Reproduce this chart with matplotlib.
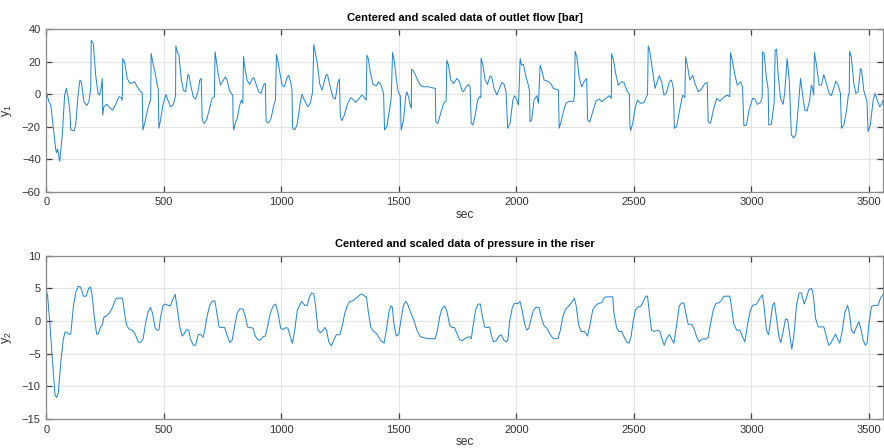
import matplotlib
matplotlib.use("Agg")
import matplotlib.pyplot as plt

plt.rcParams['font.family'] = ['Liberation Sans', 'DejaVu Sans']

# outlet flow
t1 = [0, 1.5, 11, 19, 40, 44, 48, 57, 68, 78, 85, 92, 100, 104, 118, 125, 135, 143, 149, 160, 172,
      181, 189, 191, 200, 210, 220, 227, 234, 238, 240, 245, 257, 273, 283, 294, 309, 319, 323, 325,
      333, 344, 356, 370, 375, 387, 401, 408, 411, 420, 429, 440, 444, 446, 454, 462, 472, 476, 479,
      486, 496, 509, 517, 529, 540, 550, 551, 557, 564, 574, 583, 593,
      602, 606, 613, 625, 635, 645, 653, 659, 663, 667, 673, 684, 698, 705, 715, 718, 722, 731, 741,
      751, 762, 769, 779, 786, 793, 795, 798, 805, 812, 823, 830, 836, 839, 844, 854, 866, 875, 883,
      894, 904, 914, 925, 932, 935, 946, 956, 968, 975, 979, 985, 993, 1003, 1013, 1024, 1031, 1041,
      1045, 1048, 1057, 1067, 1081, 1088, 1095, 1112, 1123, 1133, 1138, 1145, 1152, 1163, 1173, 1183,
      1191, 1197, 1206, 1220, 1230, 1240, 1247, 1251, 1258, 1268, 1282, 1296, 1308, 1317, 1329, 1343,
      1350, 1361, 1364, 1370, 1378, 1390, 1404, 1414, 1424, 1435, 1439, 1449, 1461, 1468, 1473, 1480,
      1489, 1497, 1506, 1510, 1520, 1529, 1534, 1541, 1548, 1553, 1554, 1563, 1577, 1591, 1605, 1626,
      1641, 1655, 1657, 1666, 1676, 1690, 1701, 1704, 1711, 1721, 1733, 1747, 1758, 1768,
      1775, 1786, 1796, 1803, 1808, 1815, 1825, 1835, 1843, 1849, 1850, 1857, 1867, 1877, 1888, 1895,
      1905, 1917, 1928, 1938, 1948, 1956, 1963, 1973, 1985, 1992, 1999, 2009, 2016, 2022, 2030, 2041,
      2051, 2056, 2058, 2065, 2075, 2087, 2094, 2101, 2108, 2118, 2132, 2146, 2158, 2179, 2182, 2190,
      2200, 2211, 2226, 2243, 2247, 2250, 2257, 2268, 2278, 2288, 2299, 2303, 2313, 2325, 2339, 2353,
      2363, 2377,
      2384, 2396, 2404, 2405, 2413, 2424, 2434, 2448, 2458, 2469, 2481, 2483, 2486, 2495, 2505, 2515,
      2529, 2543, 2554, 2558, 2561, 2568, 2580, 2590, 2600, 2608, 2618, 2628, 2639, 2651, 2660, 2668,
      2672, 2682, 2696, 2707, 2713, 2717, 2720, 2727, 2738, 2750, 2760, 2774, 2788, 2802, 2812, 2816,
      2826, 2838, 2852, 2866, 2880, 2897, 2908, 2911, 2920, 2930, 2940, 2954, 2962,
      2968, 2979, 2990, 3005, 3015, 3025, 3039, 3046, 3047, 3054, 3064, 3071, 3074, 3085, 3097, 3101,
      3107, 3114, 3124, 3135, 3142, 3152, 3161, 3170, 3180, 3189, 3199, 3209, 3217, 3227, 3237, 3248,
      3255, 3260, 3265, 3268, 3277, 3288, 3298, 3308, 3319, 3331, 3340, 3350, 3359, 3369, 3379, 3383,
      3393, 3404, 3413, 3416, 3418, 3425, 3435, 3444, 3454, 3464, 3469, 3478, 3486, 3492, 3496, 3506,
      3518, 3526, 3535, 3546, 3554, 3560]
y1 = [0, 0.4, -4.7, -6.7, -34, -36, -33.7, -41.4, -25, -0.6, 3.5, -1.6, -9.8, -22, -22.6, -19, -0.6,
      8.6, 7.5, -4.7, -7.1, -4.7, 3.5, 33, 31, 11.6, 0.4, -0.6, 4.5, 9.6, -12.9, -7.8, -6.3, -8.8,
      -9.8, -6.7, -1.6, -2.2, -3.7, 21.8, 19.8, 9.6, 6.5, 7.1, 7.6, 4.5, 1.4, 1, -22, -17, -10.8,
      -4.7, -4.3, 25, 18.8, 13.7, 5.5, 3.5, -21, -16, -6.7, -0.2, -3.7, -7.8, -6.7, -0.6, 29.6, 26,
      24, 9.6, 2.4, 1.4,
      11.6, 12, 6.5, -1.6, -3, 1.4, 8.6, 9.6, -15, -17, -18, -15, -6.7, -2.7, -1.6, 26, 21.8, 12.7,
      5.5, 8, 10.6, 8.6, 2.4, 0.4, -0.6, -18, -22, -17.3, -15, -6.7, -3.7, -5.7, 23, 16.7, 8.6, 5.9,
      9.2, 10, 5.5, 1.4, 0.4, 5.9, 6.5, -17, -17.6, -15, -6.7, -3.7, 24.3, 20.8, 13.7, 5.5, 4.5, 10,
      11.6, 6.5, 2.4, -21, -22, -19, -4.7, -0.2, -2.7, -7.8, -5.7, 1.4, 30.4, 24.9, 19.8, 6.5, 2.4,
      7.6,
      12, 11.6, 5.5, -2.2, -3, 6.5, 9.2, -13.9, -16.3, -12.9, -5.7, -2.2, -3.7, -5.1, -3, -0.6, -1.6,
      -3.7, 23.9, 21.8, 13.7, 5.9, 5.1, 7.6, 5.5, 0.4, -22, -20, -8.8, -1.6, 25.5, 20.8, 9.6, 1.4,
      -1, -22, -15.9, -1.6, 1.4, -1.6, -6.7, -8.8, 15.3, 14.1, 9.6, 5.5, 4.5, 4.5, 3.9, 3.5, -17, -18,
      -12.9, -5.7, -4.3, 20.8, 17.8, 8.6, 6.5, 9.6, 7.6, 2.4,
      1.4, 4.5, 5.9, 4.5, -18, -19, -12.9, -3.7, -1.6, -2.2, 22.2, 18.2, 8.6, 5.9, 11.2, 10.6, 3.5,
      -0.6, 3.5, 7.1, 5.9, 1.4, -21, -18, -3.7, -1, -2.7, -6.7, 21.8, 17.8, 18.2, 10.6, 5.5, 1.4,
      -17, -15.9, -3.7, -1, -5.7, 17.8, 14.7, 8.6, 8, 6.5, 3.5, 2.4, -21, -17, -10.8, -5.7, -4.3,
      -4.7, -0.6, 26.3, 22.9, 9.6, 4.5, 7.6, 9.6, -15.9, -17, -10.8, -4.3, -3, -4.7, -3,
      -2.2, -1, -2.7, 24.9, 20.8, 11.6, 5.5, 7.6, 7.1, 2.4, -0.2, -19, -22.6, -18, -8.8, -3.7, -5.7,
      -5.1, -1.6, -0.2, 29.6, 26, 13.7, 3.5, 8, 11.2, 7.6, -0.6, 1, 7.6, 8.6, 3.5, -21, -20, -8.8,
      -0.6, -1.6, -2.2, 22.9, 18.2, 8.6, 11.6, 6.5, 1.4, 3.1, 6.5, 7.1, -17, -18, -9.8, -2.7, -4.3,
      -2.2, -0.6, -1.6, 25.5, 19.8, 11.6, 5.5, 7.6, 4.5,
      -19.4, -19, -9.8, -2.7, -3, -6.3, -5.1, -1.6, 25.9, 24.9, 9.6, 3.5, -19, -18.6, -4.7, 26.9,
      27.6, 11.6, -2.7, -6.3, 1.4, 21.8, 8.6, -25, -27, -25, -8.8, 9.6, 0.4, -9.8, -10.4, -3.7, 5.5,
      3.5, -0.6, 25.5, 17.8, 5.5, 5.5, 12, 6.5, 0.4, -1, 3.5, 8, 5.5, 0.4, -21, -19, -10.8, -0.2,
      0.4, 26.3, 22.9, 7.6, 0.4, 1.4, 15.7, 14.7, 2.4, -1.6, -4.7, -23, -19, -3.7, 0.4, -3.7, -7.8,
      -6.3, -3.7]

# pressure in the riser
t2 = [0, 1.5, 6, 16, 27, 37, 44, 51, 61, 72, 79, 89, 94, 104, 115, 126, 136, 146, 158, 169, 180,
      188, 194, 204, 214, 221, 231, 238, 245, 256, 268, 282, 292, 299, 310, 324, 331, 341, 351, 365,
      377, 391, 401, 412, 422, 433, 443, 452, 462, 469, 479, 486, 497, 507, 518, 528, 536, 548, 556,
      568, 578, 586, 596, 606, 613, 625, 635, 646, 656, 667, 674, 684, 695, 705, 717, 726, 735, 745,
      759, 771, 781, 791, 802, 812, 823, 837, 847, 856, 868, 880, 889, 901, 911, 922, 932, 943, 953,
      965, 976, 986, 997, 1007, 1019, 1028, 1038, 1047, 1057, 1068, 1078,
      1086, 1100, 1110, 1118, 1128, 1138, 1146, 1156, 1166, 1178, 1185, 1192, 1202, 1213, 1223, 1234,
      1249, 1260, 1270, 1280, 1291, 1305, 1317, 1326, 1336, 1345, 1355, 1362, 1369, 1380, 1393, 1407,
      1421, 1437, 1447, 1457, 1465, 1472, 1479, 1489, 1499, 1508, 1518, 1528, 1536, 1549, 1563, 1577,
      1591, 1603, 1620, 1638, 1655, 1664, 1674, 1684, 1695, 1705, 1716, 1726, 1737, 1747, 1759, 1770,
      1780, 1790, 1801, 1808, 1815, 1827, 1837, 1847, 1855, 1865, 1876, 1886, 1893, 1903, 1914, 1926,
      1936, 1946, 1957, 1964, 1971, 1983, 1992, 2007, 2016, 2024, 2035, 2045, 2053, 2063, 2073, 2084,
      2096, 2106, 2116, 2130, 2144, 2158, 2177, 2187, 2198, 2209, 2223, 2238, 2247, 2255, 2265, 2276,
      2290,
      2303, 2313, 2325, 2335, 2349, 2363, 2373, 2381, 2398, 2410, 2415, 2427, 2437, 2448, 2458, 2469,
      2479, 2488, 2498, 2507, 2519, 2529, 2540, 2551, 2558, 2566, 2575, 2587, 2600, 2611, 2621, 2629,
      2639, 2651, 2660, 2670, 2682, 2693, 2703, 2713, 2721, 2731, 2746, 2755, 2767, 2778, 2788, 2798,
      2806, 2816, 2826, 2838, 2849, 2863, 2873, 2883, 2894, 2908, 2915, 2925, 2937, 2951, 2962, 2972,
      2982, 2994, 3005, 3022, 3036, 3047, 3054, 3064, 3073, 3081, 3090, 3098, 3107, 3117, 3125, 3135,
      3145, 3154, 3164, 3172, 3180, 3192, 3203, 3213, 3224, 3234, 3244, 3256, 3263, 3273, 3284, 3298,
      3308, 3319, 3329, 3338, 3348, 3358, 3366, 3376, 3387, 3397, 3409, 3416, 3426, 3436, 3447, 3457,
      3464, 3475, 3485, 3492, 3501, 3511, 3521, 3539, 3549, 3560]
y2 = [4.5, 4.5, 3.7, -0.9, -6.5, -11.3, -11.7, -11, -6.5, -2.9, -1.7, -1.7, -2, -2, 2.2, 4.5, 5.3,
      5.2, 3.8, 3.8, 5, 5.2, 4.2, 0.7, -2, -2, -0.9, -0.6, 0.6, 0.8, 1.2, 2.1, 3.1, 3.5, 3.5, 3.5,
      1.7, -0.6, -1.2, -1.4, -1.9, -3.2, -3.3, -2.7, -0.4, 1.4, 2.1, 1.2, -0.9, -1.4, -1.4, 0.6, 2.4,
      2.6, 2.4, 2.3, 3.1, 4.1, 2.2, -0.9, -2.3, -2, -1.3, -1.4, -2.7, -3.7, -3.7, -2.1, -2, -2.5,
      -1.4, 0.7, 2.4, 3, 3.1, 1.2, -0.9, -1, -1, -2.4, -3.3, -2.9, -0.6, 1.2, 1.9, 1.8, 0.7, -0.9, -1,
      -1.1, -2.3, -2.9, -2.9, -2.4, -2.3, -0.6, 1.2, 2.3, 2.6, 1.2, -1.1, -1.3, -1, -1.1, -2.4, -3.4,
      -1.4, 1.7, 2.4,
      3, 2.4, 2.4, 3.5, 4.3, 4.2, 2.2, -1.4, -1.8, -1.4, -1, -1.4, -3.2, -3.8, -2.9, -2.1, -2.1, -0.6,
      1.2, 2.3, 3, 3.1, 3.5, 3.7, 4.1, 4.1, 3.8, 3.7, 1.7, -0.9, -1.6, -2, -2.9, -3.4, -1.4, 1.2, 2.3,
      2.1, -0.4, -2.3, -2.1, -0.1, 2.2, 3, 2.7, 1.4, 0.2, -1.4, -2.4, -2.5, -2.7, -2.7, -2.7, -1.4,
      0.7, 1.9, 2.3, 1.4, -0.6, -1, -1, -1.9, -2.9, -3, -2.7, -2.5, -2.4, -2.7, -0.9, 1.7, 2.6, 2.6,
      0.7, -0.9, -1, -0.9, -2.1, -3.2, -3, -2.3, -2.1, -2.9, -3.2, -2.9, -0.1, 2.1, 2.7, 2.7, 3, 1.7,
      -0.4, -1.4, -1.1, 0.4, 1.7, 2.1, 2.1, 0.6, -0.6, -1.1, -2.1, -2.7, -2.7, -1.4, 0.7, 1.8, 2.3, 3,
      3.5, 2.2, -0.6, -1.6, -1.6,
      -2.3, -0.6, 1.7, 2.3, 2.7, 2.8, 3.5, 3.7, 3.7, 3.7, 1.2, -1.1, -1.6, -1.6, -2.4, -3.2, -3.4,
      -2.4, 0.2, 1.7, 2.2, 2.2, 3, 3.8, 3.8, 1.2, -1.4, -1.6, -1.4, -1.6, -2.9, -3.7, -2.7, -2.1,
      -2.7, -3.4, -0.6, 2.3, 2.8, 2.7, 1.2, -0.5, -0.5, -1.1, -2.4, -3.2, -2.8, -2.7, -2.8, -2.5,
      -0.4, 1.7, 2.7, 2.8, 3.2, 3.8, 3.8, 3.8, 2.2, -0.4, -1.4, -1.4, -2.4, -3.2, -0.9, 1.4, 2.4, 2.6,
      3.5, 4, 2.2, -1.4, -2.1, -0.1, 2.4, 2.8, 0.4, -2.4, -3.3, -1.6, 0.3, 0.2, -2.4, -4.3, -2.4,
      2.4, 4.3, 4.3, 2.6, 3.5, 4.8, 5, 4, 0.4, -0.9, -0.9, -0.9, -2.4, -3.7, -3.4, -2.7, -2, -2.7,
      -3.4, -1.4, 1.2, 2.4, 1.4, -1.4, -1.9, -0.9, -0.1, -0.9, -2.9, -3.7, -3.4, -0.1, 2.2, 2.4, 2.4,
      3.5, 4]

line_color = '#1f82cc'
grid_color = '#e3e3e3'
box_color = '#8a8a8a'
text_color = '#333333'

fig = plt.figure(figsize=(8.84, 4.48), dpi=100)
ax1 = fig.add_axes([0.0524, 0.5721, 0.9465, 0.3632])
ax2 = fig.add_axes([0.0524, 0.0647, 0.9465, 0.3645])

panels = [
    (ax1, t1, y1, 'Centered and scaled data of outlet flow [bar]', r'$\mathregular{y_1}$',
     (-60, 40), [-60, -40, -20, 0, 20, 40]),
    (ax2, t2, y2, 'Centered and scaled data of pressure in the riser', r'$\mathregular{y_2}$',
     (-15, 10), [-15, -10, -5, 0, 5, 10]),
]

for ax, t, y, title, ylab, ylim, yticks in panels:
    ax.plot(t, y, color=line_color, linewidth=0.7)
    ax.set_xlim(0, 3560)
    ax.set_ylim(*ylim)
    ax.set_xticks([0, 500, 1000, 1500, 2000, 2500, 3000, 3500])
    ax.set_yticks(yticks)
    ax.grid(True, color=grid_color, linewidth=0.8)
    ax.set_axisbelow(True)
    for s in ax.spines.values():
        s.set_color(box_color)
        s.set_linewidth(0.9)
    ax.tick_params(direction='in', length=4, width=0.9, color='#404040',
                   labelsize=8, labelcolor=text_color, top=True, right=True, pad=4)
    ax.set_title(title, fontsize=8, fontweight='bold', color='black', pad=6)
    ax.set_xlabel('sec', fontsize=8.5, color=text_color, labelpad=1)
    ax.set_ylabel(ylab, fontsize=9, color=text_color, labelpad=6)

fig.savefig('out.png', dpi=100)
